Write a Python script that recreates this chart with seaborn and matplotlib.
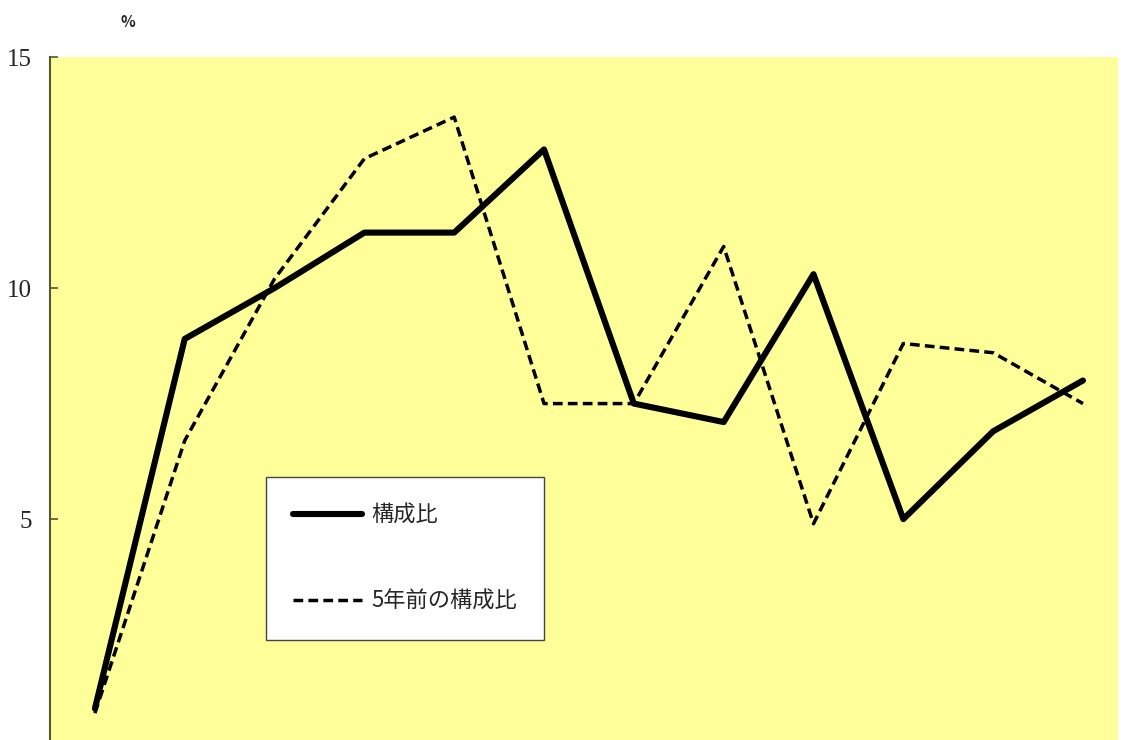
import matplotlib
matplotlib.use("Agg")
import matplotlib.pyplot as plt
import pandas as pd
import seaborn as sns

# values (%)
points = list(range(12))
current = [0.9, 8.9, 10.0, 11.2, 11.2, 13.0, 7.5, 7.1, 10.3, 5.0, 6.9, 8.0]
five_years_ago = [0.8, 6.7, 10.2, 12.8, 13.7, 7.5, 7.5, 10.9, 4.9, 8.8, 8.6, 7.5]
labels = ["構成比", "5年前の構成比"]
y_ticks = [5, 10, 15]

df = pd.DataFrame({"x": points, "current": current, "prev": five_years_ago})

sns.set_style("white")
plt.rcParams["font.family"] = ["Noto Sans CJK JP", "DejaVu Sans"]

fig = plt.figure(figsize=(11.21, 7.4), dpi=100)
ax = fig.add_axes([50 / 1121, 0.0, 1068 / 1121, 683 / 740])
ax.set_facecolor("#ffff99")

sns.lineplot(data=df, x="x", y="current", ax=ax, color="black",
             linewidth=4.4, label=labels[0])
sns.lineplot(data=df, x="x", y="prev", ax=ax, color="black",
             linewidth=2.5, linestyle=(0, (2.8, 1.5)), label=labels[1])

ax.set_xlim(-0.5, 11.39)
ax.set_ylim(0.22, 15)
ax.set_xticks([])
ax.set_yticks(y_ticks)
ax.set_yticklabels([str(t) for t in y_ticks], family="Liberation Serif", fontsize=18)
ax.tick_params(axis="y", direction="in", length=6, width=1.2, color="#555533", pad=13, left=True)
ax.set_xlabel("")
ax.set_ylabel("")
for side in ["top", "right", "bottom"]:
    ax.spines[side].set_visible(False)
ax.spines["left"].set_color("#555533")
ax.spines["left"].set_linewidth(1.5)

leg = ax.legend(loc="upper left", bbox_to_anchor=((266 - 50) / 1068, (740 - 477) / 683),
                fontsize=16, handlelength=3.1, handletextpad=0.45, labelspacing=2.85,
                borderpad=1.2, borderaxespad=0, fancybox=False, framealpha=1)
leg.get_frame().set_edgecolor("#444444")
leg.get_frame().set_linewidth(1.0)

fig.text(128 / 1121, 1 - 22 / 740, "%", ha="center", va="center", fontsize=11, fontweight="bold")

fig.savefig("out.png", dpi=100)
